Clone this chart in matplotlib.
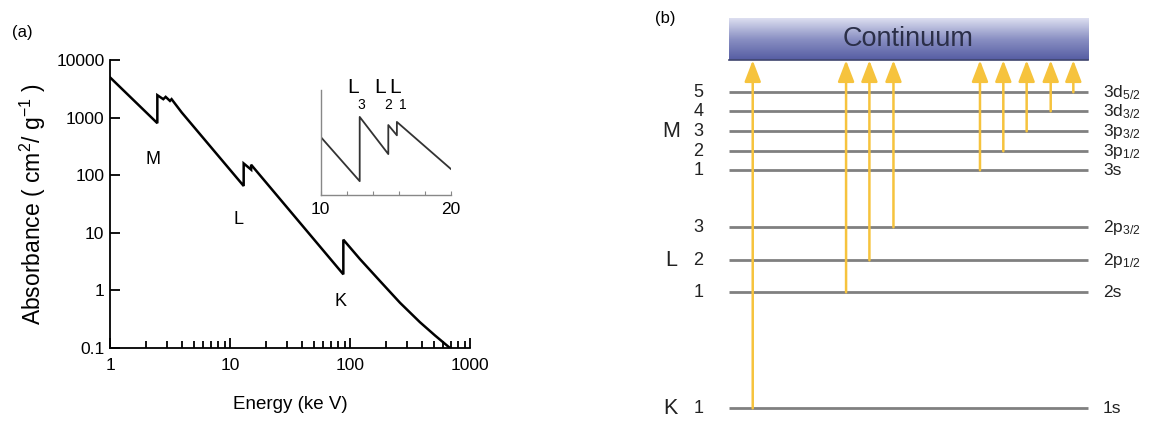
import matplotlib
matplotlib.use("Agg")
import matplotlib.pyplot as plt
import numpy as np
from matplotlib.colors import LinearSegmentedColormap

plt.rcParams['font.family'] = ['Liberation Sans', 'DejaVu Sans']
plt.rcParams['mathtext.fontset'] = 'custom'
plt.rcParams['mathtext.rm'] = 'Liberation Sans'
plt.rcParams['mathtext.it'] = 'Liberation Sans:italic'

# (a) mass absorption curve, energy in keV, absorbance in cm2/g
energy = [1.0, 2.48, 2.48, 2.78, 2.91, 3.16, 3.26, 3.96, 13.0, 13.0, 15.0, 15.0,
          88.0, 88.0, 121, 178, 261, 383, 511, 681]
absorbance = [5000, 800, 2450, 2090, 2290, 1950, 2090, 1227, 65, 160, 125, 152,
              1.9, 7.6, 3.5, 1.45, 0.61, 0.28, 0.165, 0.1]
edge_labels = ['M', 'L', 'K']
edge_label_x = [2.27, 11.7, 82.6]
edge_label_y = [188, 17, 0.64]

# inset: L edges between 10 and 20 keV
inset_energy = [10, 13.0, 13.0, 15.2, 15.2, 15.86, 15.86, 20]
inset_abs = [125, 65, 168, 97, 149, 128, 156, 78]
inset_edges = ['3', '2', '1']
inset_label_x = [12.5, 14.55, 15.7]

# (b) energy levels
shell = ['K', 'L', 'L', 'L', 'M', 'M', 'M', 'M', 'M']
level_num = ['1', '1', '2', '3', '1', '2', '3', '4', '5']
orbital = ['1s', '2s', '2p$_{1/2}$', '2p$_{3/2}$', '3s', '3p$_{1/2}$',
           '3p$_{3/2}$', '3d$_{3/2}$', '3d$_{5/2}$']
level_energy = [0.0, 1.16, 1.48, 1.81, 2.38, 2.57, 2.77, 2.97, 3.16]
continuum = (3.48, 3.90)
arrow_x = [0.066, 0.326, 0.391, 0.458, 0.699, 0.764, 0.829, 0.896, 0.959]
arrow_level = [0, 1, 2, 3, 4, 5, 6, 7, 8]

fig = plt.figure(figsize=(11.76, 4.21), dpi=100)

ax = fig.add_axes([110 / 1176, 1 - 348 / 421, 360 / 1176, 288 / 421])
ax.plot(energy, absorbance, color='black', lw=1.8, solid_joinstyle='miter')
ax.set_xscale('log')
ax.set_yscale('log')
ax.set_xlim(1, 1000)
ax.set_ylim(0.1, 10000)
ax.spines['top'].set_visible(False)
ax.spines['right'].set_visible(False)
ax.spines['left'].set_linewidth(1.3)
ax.spines['bottom'].set_linewidth(1.3)
ax.set_xticks([1, 10, 100, 1000])
ax.set_xticklabels(['1', '10', '100', '1000'])
ax.set_yticks([0.1, 1, 10, 100, 1000, 10000])
ax.set_yticklabels(['0.1', '1', '10', '100', '1000', '10000'])
ax.tick_params(which='both', direction='in', labelsize=12.5, width=1.3)
ax.tick_params(which='major', length=7)
ax.tick_params(which='minor', length=5)
ax.tick_params(axis='y', which='minor', left=False)
ax.tick_params(axis='x', pad=7)
ax.tick_params(axis='y', pad=4)
ax.set_xlabel('Energy (ke V)', fontsize=13.5, labelpad=17)
ax.set_ylabel('Absorbance ( cm$^2$/ g$^{-1}$ )', fontsize=16.5, labelpad=6)
for lab, x, y in zip(edge_labels, edge_label_x, edge_label_y):
    ax.text(x, y, lab, fontsize=13, ha='center', va='center')

ins = fig.add_axes([320.7 / 1176, 1 - 195 / 421, 130 / 1176, 105 / 421])
ins.plot(inset_energy, inset_abs, color='#333333', lw=1.3)
ins.set_yscale('log')
ins.set_xlim(10, 20)
ins.set_ylim(53, 250)
ins.spines['top'].set_visible(False)
ins.spines['right'].set_visible(False)
for s in ('left', 'bottom'):
    ins.spines[s].set_color('#888888')
    ins.spines[s].set_linewidth(1.0)
ins.set_yticks([])
ins.yaxis.set_minor_locator(matplotlib.ticker.NullLocator())
ins.set_xticks([10, 12, 14, 16, 18, 20])
ins.set_xticklabels(['10', '', '', '', '', '20'])
ins.tick_params(axis='x', direction='in', length=3, color='#888888', labelsize=12.5, pad=5)
ins.patch.set_alpha(0)
for sub, x in zip(inset_edges, inset_label_x):
    ins.annotate('L', (x, 250), xytext=(0, 2), textcoords='offset points',
                 fontsize=15, ha='center', va='center', annotation_clip=False)
    ins.annotate(sub, (x, 250), xytext=(6, -11), textcoords='offset points',
                 fontsize=10, ha='center', va='center', annotation_clip=False)

fig.text(12 / 1176, 1 - 33 / 421, '(a)', fontsize=12, va='center')
fig.text(655 / 1176, 1 - 18 / 421, '(b)', fontsize=12, va='center')

# (b) energy level diagram
bx = fig.add_axes([640 / 1176, 0, 536 / 1176, 1])
bx.set_xlim(-0.248, 1.245)
bx.set_ylim(-0.127, 4.083)
bx.axis('off')

cmap = LinearSegmentedColormap.from_list('cont', ['#565da3', '#8a90c3', '#dcdef0'])
grad = np.linspace(0, 1, 64).reshape(-1, 1)
bx.imshow(grad, extent=(0, 1, continuum[0], continuum[1]), origin='lower',
          aspect='auto', cmap=cmap, zorder=1)
bx.plot([0, 1], [continuum[0], continuum[0]], color='#40456e', lw=1.2, zorder=2)
bx.text(0.5, sum(continuum) / 2, 'Continuum', fontsize=19.5, color='#2b2f48',
        ha='center', va='center', zorder=3)

for e in level_energy:
    bx.plot([0, 1], [e, e], color='#808080', lw=2, solid_capstyle='butt', zorder=2)

for x, i in zip(arrow_x, arrow_level):
    bx.annotate('', xy=(x, continuum[0]), xytext=(x, level_energy[i]),
                arrowprops=dict(arrowstyle='-|>,head_length=1.3,head_width=0.5',
                                color='#f6c33d', lw=1.8, shrinkA=0, shrinkB=0,
                                mutation_scale=10), zorder=3)

for e, n, orb in zip(level_energy, level_num, orbital):
    bx.text(-0.086, e, n, fontsize=13, ha='center', va='center', color='#222222')
    bx.text(1.042, e, orb, fontsize=12.5, ha='left', va='center', color='#222222')

for lab in ['K', 'L', 'M']:
    idx = [i for i, s in enumerate(shell) if s == lab]
    mid = level_energy[idx[len(idx) // 2]]
    bx.text(-0.162, mid, lab, fontsize=15.5, ha='center', va='center', color='#222222')

fig.savefig('out.png', dpi=100)
